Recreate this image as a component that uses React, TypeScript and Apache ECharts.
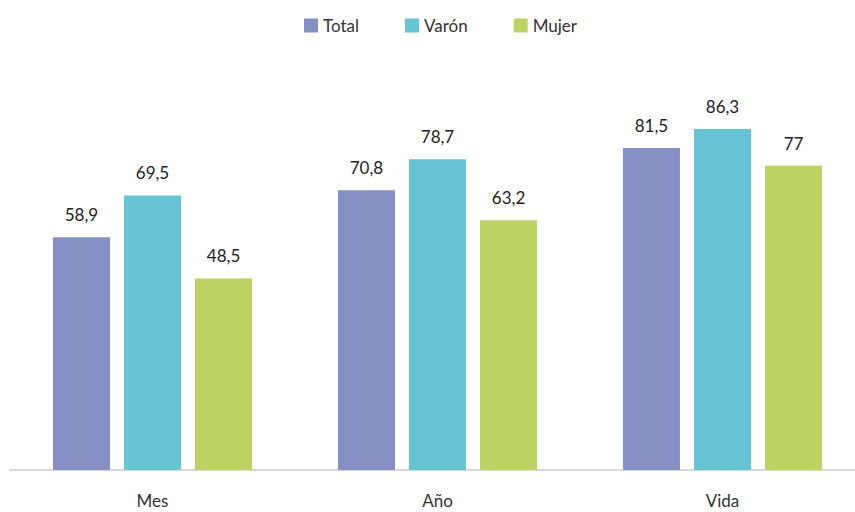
import React, { useEffect, useRef } from "react";
import * as echarts from "echarts";

const categories = ["Mes", "Año", "Vida"];
const total = [58.9, 70.8, 81.5];
const varon = [69.5, 78.7, 86.3];
const mujer = [48.5, 63.2, 77];

const seriesNames = ["Total", "Varón", "Mujer"];
const seriesColors = ["#8790C5", "#67C4D4", "#BCD262"];

const fmt = (v: number) => String(v).replace(".", ",");

export default function App() {
  const ref = useRef<HTMLDivElement>(null);

  useEffect(() => {
    if (!ref.current) return;
    const chart = echarts.init(ref.current, undefined, { renderer: "svg" });
    const font = "Lato, 'Noto Sans', sans-serif";
    const data = [total, varon, mujer];
    chart.setOption({
      animation: false,
      textStyle: { fontFamily: font },
      legend: {
        top: 12,
        left: 299,
        itemWidth: 14,
        itemHeight: 14,
        itemGap: 46,
        icon: "rect",
        textStyle: { fontSize: 17, color: "#333", fontFamily: font },
        data: seriesNames,
      },
      // the drawing surface runs 10px past the visible right edge
      grid: { left: 10, right: 0, top: 75, bottom: 42 },
      xAxis: {
        type: "category",
        data: categories,
        axisTick: { show: false },
        axisLine: { lineStyle: { color: "#D9D9D9", width: 2 } },
        axisLabel: { fontSize: 17, color: "#333", margin: 22, fontFamily: font },
      },
      yAxis: {
        type: "value",
        min: 0,
        max: 100,
        show: false,
        splitLine: { show: false },
      },
      series: seriesNames.map((name, i) => ({
        name,
        type: "bar",
        data: data[i],
        barWidth: 57,
        barGap: "24.6%",
        itemStyle: { color: seriesColors[i] },
        label: {
          show: true,
          position: "top",
          distance: 14,
          fontSize: 17,
          color: "#222",
          fontFamily: font,
          formatter: (p: any) => fmt(p.value),
        },
      })),
    });
    return () => chart.dispose();
  }, []);

  return (
    <div style={{ position: "absolute", left: 0, top: 0, width: 855, height: 512, overflow: "hidden" }}>
      <div ref={ref} style={{ width: 865, height: 512 }} />
    </div>
  );
}
